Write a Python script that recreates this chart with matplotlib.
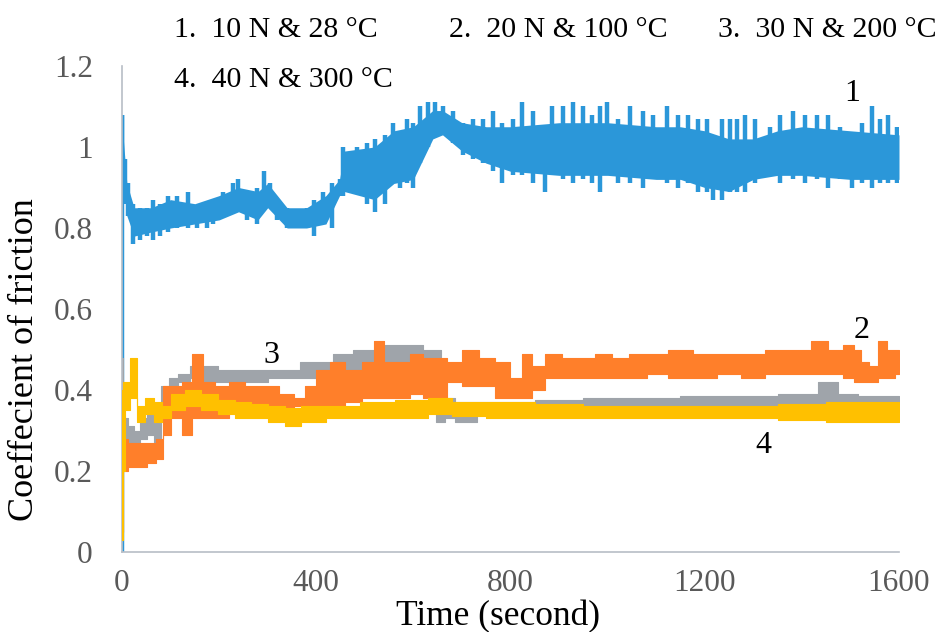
import matplotlib
matplotlib.use("Agg")
import matplotlib.pyplot as plt

# ---------------- data ----------------
# Series 1: 10 N & 28 C  (time, lower spike extent, upper spike extent)
t1 = [0, 1, 6, 13, 23, 37, 51, 64, 78, 95, 113, 136, 154, 175, 188, 208, 228, 239, 257, 278,
      293, 305, 319, 340, 360, 381, 395, 414, 432, 449, 456, 483, 504, 521, 542, 558, 572, 587,
      599, 614, 630, 645, 661, 682, 702, 723, 743, 764, 782, 805, 824, 847, 871, 885, 908, 929,
      949, 967, 984, 999, 1021, 1046, 1073, 1094, 1122, 1145, 1166, 1186, 1205, 1217, 1236, 1252,
      1266, 1283, 1304, 1318, 1334, 1355, 1382, 1406, 1431, 1454, 1479, 1503, 1524, 1544, 1561,
      1577, 1596, 1600]
lo1 = [0.00, 0.90, 0.86, 0.83, 0.76, 0.77, 0.78, 0.77, 0.78, 0.79, 0.80, 0.80, 0.80, 0.80, 0.81,
       0.83, 0.84, 0.84, 0.82, 0.81, 0.85, 0.85, 0.82, 0.80, 0.80, 0.80, 0.78, 0.81, 0.80, 0.88,
       0.88, 0.89, 0.86, 0.84, 0.86, 0.91, 0.90, 0.91, 0.90, 0.96, 1.00, 1.04, 1.03, 1.01, 0.98,
       0.97, 0.96, 0.94, 0.91, 0.93, 0.93, 0.91, 0.89, 0.93, 0.92, 0.91, 0.92, 0.91, 0.89, 0.93,
       0.91, 0.91, 0.90, 0.93, 0.91, 0.90, 0.91, 0.89, 0.89, 0.87, 0.87, 0.89, 0.89, 0.89, 0.91,
       0.93, 0.94, 0.91, 0.92, 0.91, 0.92, 0.90, 0.92, 0.90, 0.91, 0.90, 0.91, 0.91, 0.91, 0.91]
hi1 = [1.08, 1.08, 0.97, 0.91, 0.86, 0.85, 0.85, 0.87, 0.86, 0.88, 0.88, 0.89, 0.85, 0.86, 0.87,
       0.89, 0.91, 0.92, 0.89, 0.90, 0.94, 0.91, 0.86, 0.85, 0.84, 0.85, 0.87, 0.89, 0.91, 0.92,
       1.00, 1.00, 1.01, 1.02, 1.03, 1.06, 1.00, 1.07, 1.06, 1.10, 1.11, 1.11, 1.10, 1.09, 1.06,
       1.07, 1.07, 1.09, 1.06, 1.07, 1.11, 1.09, 1.05, 1.10, 1.10, 1.11, 1.10, 1.08, 1.10, 1.11,
       1.07, 1.10, 1.09, 1.08, 1.10, 1.08, 1.08, 1.07, 1.07, 0.99, 1.07, 1.07, 1.07, 1.08, 1.07,
       1.02, 1.05, 1.08, 1.09, 1.08, 1.08, 1.08, 1.05, 1.02, 1.06, 1.10, 1.07, 1.08, 1.05, 1.00]
# Series 1 dense core band
tc1 = [0, 10, 25, 60, 100, 150, 200, 240, 280, 300, 340, 380, 420, 448, 458, 520, 560, 600, 640,
       660, 700, 750, 800, 900, 1000, 1100, 1150, 1200, 1250, 1300, 1350, 1400, 1500, 1600]
clo1 = [0.95, 0.83, 0.78, 0.79, 0.80, 0.81, 0.82, 0.84, 0.82, 0.85, 0.80, 0.80, 0.81, 0.88, 0.89,
        0.87, 0.91, 0.92, 1.02, 1.03, 0.99, 0.96, 0.94, 0.93, 0.93, 0.92, 0.92, 0.90, 0.89, 0.92,
        0.93, 0.93, 0.92, 0.92]
chi1 = [1.06, 0.91, 0.85, 0.85, 0.87, 0.86, 0.88, 0.90, 0.89, 0.91, 0.85, 0.85, 0.88, 0.92, 0.99,
        1.00, 1.04, 1.05, 1.09, 1.09, 1.06, 1.05, 1.05, 1.06, 1.06, 1.05, 1.05, 1.04, 1.02, 1.02,
        1.04, 1.05, 1.04, 1.03]

# Series 2: 20 N & 100 C
t2 = [2, 4, 20, 43, 60, 78, 89, 113, 133, 154, 181, 202, 237, 270, 305, 340, 367, 387, 414, 443,
      476, 511, 527, 552, 579, 607, 634, 655, 682, 717, 752, 785, 813, 834, 855, 888, 923, 958,
      991, 1025, 1061, 1100, 1150, 1200, 1250, 1300, 1350, 1400, 1437, 1470, 1500, 1513, 1530,
      1545, 1567, 1585, 1600]
lo2 = [0.05, 0.20, 0.21, 0.21, 0.22, 0.23, 0.29, 0.33, 0.29, 0.33, 0.33, 0.33, 0.35, 0.36, 0.36,
       0.35, 0.36, 0.36, 0.36, 0.36, 0.37, 0.38, 0.38, 0.38, 0.38, 0.39, 0.38, 0.38, 0.42, 0.41,
       0.41, 0.38, 0.38, 0.38, 0.40, 0.43, 0.43, 0.43, 0.43, 0.43, 0.43, 0.44, 0.43, 0.43, 0.44,
       0.43, 0.44, 0.44, 0.44, 0.44, 0.43, 0.42, 0.42, 0.42, 0.43, 0.43, 0.44]
hi2 = [0.28, 0.28, 0.27, 0.27, 0.27, 0.28, 0.41, 0.41, 0.42, 0.49, 0.42, 0.41, 0.42, 0.41, 0.41,
       0.39, 0.38, 0.41, 0.45, 0.47, 0.45, 0.47, 0.52, 0.47, 0.47, 0.49, 0.48, 0.48, 0.47, 0.50,
       0.48, 0.47, 0.43, 0.49, 0.46, 0.49, 0.48, 0.48, 0.49, 0.48, 0.49, 0.49, 0.50, 0.49, 0.49,
       0.49, 0.50, 0.50, 0.52, 0.50, 0.51, 0.50, 0.47, 0.46, 0.52, 0.50, 0.50]

# Series 3: 30 N & 200 C
t3 = [0, 6, 20, 31, 45, 58, 72, 89, 105, 126, 154, 181, 216, 249, 284, 319, 352, 381, 414, 455,
      496, 525, 560, 600, 640, 652, 660, 670, 700, 760, 800, 900, 1000, 1100, 1200, 1300, 1400,
      1468, 1480, 1550, 1600]
lo3 = [0.30, 0.27, 0.27, 0.27, 0.28, 0.29, 0.27, 0.36, 0.41, 0.42, 0.43, 0.42, 0.42, 0.42, 0.42,
       0.43, 0.43, 0.43, 0.43, 0.44, 0.45, 0.46, 0.46, 0.45, 0.45, 0.32, 0.32, 0.33, 0.32, 0.34,
       0.35, 0.35, 0.35, 0.355, 0.36, 0.36, 0.36, 0.36, 0.36, 0.36, 0.36]
hi3 = [0.48, 0.33, 0.31, 0.30, 0.33, 0.35, 0.33, 0.41, 0.43, 0.44, 0.46, 0.46, 0.45, 0.45, 0.45,
       0.45, 0.45, 0.47, 0.47, 0.49, 0.50, 0.50, 0.51, 0.51, 0.50, 0.50, 0.45, 0.38, 0.37, 0.37,
       0.37, 0.375, 0.38, 0.38, 0.385, 0.385, 0.39, 0.42, 0.39, 0.385, 0.385]

# Series 4: 40 N & 300 C
t4 = [1, 3, 10, 23, 37, 58, 74, 89, 113, 146, 181, 216, 249, 284, 319, 352, 387, 455, 525, 600,
      660, 700, 800, 900, 1000, 1100, 1200, 1300, 1400, 1500, 1600]
lo4 = [0.03, 0.20, 0.35, 0.38, 0.32, 0.34, 0.32, 0.33, 0.35, 0.36, 0.35, 0.34, 0.33, 0.33, 0.32,
       0.31, 0.32, 0.33, 0.33, 0.33, 0.34, 0.335, 0.33, 0.33, 0.33, 0.33, 0.33, 0.33, 0.325, 0.32,
       0.32]
hi4 = [0.40, 0.42, 0.42, 0.48, 0.36, 0.38, 0.37, 0.36, 0.39, 0.40, 0.39, 0.375, 0.37, 0.365, 0.36,
       0.355, 0.36, 0.36, 0.37, 0.375, 0.38, 0.37, 0.37, 0.365, 0.36, 0.36, 0.36, 0.36, 0.365, 0.37,
       0.37]

legend_texts = ["1.  10 N & 28 °C", "2.  20 N & 100 °C", "3.  30 N & 200 °C", "4.  40 N & 300 °C"]
curve_labels = ["1", "2", "3", "4"]
xticks = [0, 400, 800, 1200, 1600]
yticks = [0, 0.2, 0.4, 0.6, 0.8, 1.0, 1.2]
ytick_labels = ["0", "0.2", "0.4", "0.6", "0.8", "1", "1.2"]

colors = {"1": "#2B97D9", "2": "#FF7F2A", "3": "#9FA4AA", "4": "#FFC000"}

# ---------------- figure ----------------
plt.rcParams['font.family'] = ['Liberation Serif', 'DejaVu Serif']
W, H = 943, 632
fig = plt.figure(figsize=(W / 100, H / 100), dpi=100)
ax = fig.add_axes([122 / W, 1 - 552 / H, (899 - 122) / W, (552 - 66) / H])

# series 1: dense core + spikes
ax.fill_between(tc1, clo1, chi1, color=colors["1"], lw=0, zorder=1)
ax.vlines(t1, lo1, hi1, color=colors["1"], lw=3.2, zorder=1)

ax.fill_between(t3, lo3, hi3, step='mid', color=colors["3"], lw=0.8, edgecolor=colors["3"], zorder=2)
ax.fill_between(t2, lo2, hi2, step='mid', color=colors["2"], lw=0.8, edgecolor=colors["2"], zorder=3)
ax.fill_between(t4, lo4, hi4, step='mid', color=colors["4"], lw=0.8, edgecolor=colors["4"], zorder=4)

ax.set_xlim(0, 1600)
ax.set_ylim(0, 1.2)
ax.set_xticks(xticks)
ax.set_xticklabels([str(v) for v in xticks])
ax.set_yticks(yticks)
ax.set_yticklabels(ytick_labels)
ax.tick_params(axis='both', length=0, labelsize=22.5, labelcolor='#595959')
ax.tick_params(axis='y', pad=21)
ax.tick_params(axis='x', pad=12)
for s in ['top', 'right']:
    ax.spines[s].set_visible(False)
for s in ['left', 'bottom']:
    ax.spines[s].set_color('#B8BEC6')
    ax.spines[s].set_linewidth(1.2)

fig.text(0.5 * (395 + 600) / W, 1 - 617 / H, "Time (second)", ha='center', va='center',
         fontsize=25.5, color='black')
fig.text(25 / W, 1 - 360 / H, "Coeffecient of friction", ha='center', va='center',
         rotation=90, fontsize=26, color='black')

leg_pos = [(174, 30), (449, 30), (718, 30), (174, 80)]
for (px, py), txt in zip(leg_pos, legend_texts):
    fig.text(px / W, 1 - py / H, txt, ha='left', va='center', fontsize=21.5, color='black')

label_pos = [(1503, 1.133), (1524, 0.548), (307, 0.486), (1320, 0.262)]
for (tx, vy), lab in zip(label_pos, curve_labels):
    ax.text(tx, vy, lab, ha='center', va='center', fontsize=23, color='black', zorder=6)

fig.savefig("out.png", dpi=100)
